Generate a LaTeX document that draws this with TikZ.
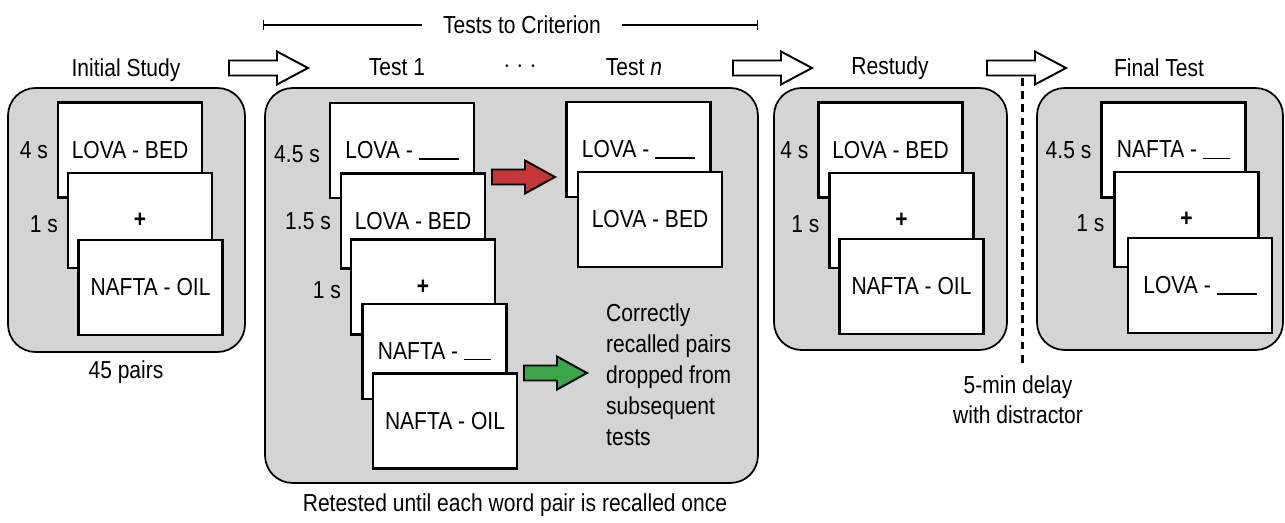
\documentclass[tikz,border=0pt]{standalone}
\usepackage{fontspec}
\setmainfont{Liberation Sans}[FakeStretch=0.855]
\usetikzlibrary{arrows.meta, positioning}
\definecolor{panelgray}{RGB}{212,212,212}
\definecolor{myred}{RGB}{196,56,56}
\definecolor{mygreen}{RGB}{58,166,72}

% fat arrow: style, tail point, shaft length, head length, half shaft, half head
\newcommand{\fatarrow}[6]{%
  \draw[#1] (#2) ++(0,-#5) -- ++(#3,0) -- ++(0,{#5-#6}) -- ++(#4,#6)
    -- ++(-#4,#6) -- ++(0,{#5-#6}) -- ++(-#3,0) -- cycle;}
\newcommand{\blank}[1]{\rule[-0.6pt]{#1}{0.8pt}}

\begin{document}
\begin{tikzpicture}[x=0.02cm, y=-0.02cm,
    font=\fontsize{14}{16}\selectfont,
    panel/.style={draw=black, line width=1pt, fill=panelgray, rounded corners=0.55cm, inner sep=0pt},
    card/.style={draw=black, line width=1.2pt, fill=white, minimum width=2.88cm, minimum height=1.9cm, inner sep=0pt},
    dur/.style={inner sep=0pt},
    stagearrow/.style={draw=black, line width=1.1pt, fill=white, line join=miter},
    bracket/.style={line width=0.8pt}
]

    \useasboundingbox (0,0) rectangle (1285,523);

    % Stage titles
    \node (t_study) at (126,70) {Initial Study};
    \node (t_test1) at (397,67) {Test 1};
    \node (t_dots) at (520,67) {$\cdot$\hspace{3.5pt}$\cdot$\hspace{3.5pt}$\cdot$};
    \node (t_testn) at (634,67) {Test \textit{n}};
    \node (t_restudy) at (890,68) {Restudy};
    \node (t_final) at (1159,68) {Final Test};

    % Tests to criterion bracket
    \node[inner xsep=12pt] (crit) at (522,25) {Tests to Criterion};
    \coordinate (crit_l) at (263,25);
    \coordinate (crit_r) at (758,25);
    \draw[bracket, {Bar[width=6pt]}-] (crit_l) -- (crit.west);
    \draw[bracket, -{Bar[width=6pt]}] (crit.east) -- (crit_r);

    % Stage arrows
    \coordinate (a_study) at (229,68);
    \coordinate (a_tests) at (733,68);
    \coordinate (a_restudy) at (987,68);
    \fatarrow{stagearrow}{a_study}{48}{31}{7.5}{16.5}
    \fatarrow{stagearrow}{a_tests}{48}{31}{7.5}{16.5}
    \fatarrow{stagearrow}{a_restudy}{48}{31}{7.5}{16.5}

    % Panels
    \node[panel, minimum width=4.74cm, minimum height=5.28cm] (p_study) at (126.5,220) {};
    \node[panel, minimum width=9.86cm, minimum height=7.9cm] (p_tests) at (511.5,285.5) {};
    \node[panel, minimum width=4.66cm, minimum height=5.24cm] (p_restudy) at (890.5,219) {};
    \node[panel, minimum width=4.92cm, minimum height=5.24cm] (p_final) at (1160,219) {};

    % Initial study cards
    \node[card] (s1) at (130,150) {LOVA - BED};
    \node[card] (s2) at (140,220.5) {\textbf{+}};
    \node[card] (s3) at (150.5,287.5) {NAFTA - OIL};
    \node[dur, left=5pt of s1.west] {4 s};
    \node[dur, left=5pt of s2.west, yshift=-2pt] {1 s};
    \node (pairs) at (126,372) {45 pairs};

    % Test cards
    \node[card] (ta) at (402,150.5) {LOVA - \blank{0.8cm}};
    \node[card] (tb) at (413,221) {LOVA - BED};
    \node[card] (tc) at (423,287) {\textbf{+}};
    \node[card] (td) at (434.5,351.5) {NAFTA - \blank{0.54cm}};
    \node[card] (te) at (445,421) {NAFTA - OIL};
    \node[dur, left=5pt of ta.west, yshift=-2pt] {4.5 s};
    \node[dur, left=5pt of tb.west] {1.5 s};
    \node[dur, left=5pt of tc.west, yshift=-2pt] {1 s};

    \node[card] (tf) at (638.5,149.5) {LOVA - \blank{0.8cm}};
    \node[card] (tg) at (650,219.5) {LOVA - BED};

    % Feedback arrows
    \coordinate (a_wrong) at (492,177);
    \coordinate (a_right) at (524,373);
    \fatarrow{stagearrow, fill=myred}{a_wrong}{33}{30}{7.5}{16.5}
    \fatarrow{stagearrow, fill=mygreen}{a_right}{33}{30}{7.5}{16.5}
    \node[anchor=west, align=left, font=\fontsize{14}{17.6}\selectfont] (dropped) at (600,375)
        {Correctly\\recalled pairs\\dropped from\\subsequent\\tests};
    \node (retested) at (515,505) {Retested until each word pair is recalled once};

    % Restudy cards
    \node[card] (r1) at (890.5,150) {LOVA - BED};
    \node[card] (r2) at (901.5,220.5) {\textbf{+}};
    \node[card] (r3) at (911.5,286.5) {NAFTA - OIL};
    \node[dur, left=5pt of r1.west] {4 s};
    \node[dur, left=5pt of r2.west, yshift=-2pt] {1 s};

    % Delay
    \coordinate (delay_top) at (1022,78);
    \coordinate (delay_bot) at (1022,363);
    \draw[line width=1.7pt, dash pattern=on 4.5pt off 3pt] (delay_top) -- (delay_bot);
    \node[align=center, font=\fontsize{14}{17}\selectfont] (delay) at (1018,400) {5-min delay\\with distractor};

    % Final test cards
    \node[card] (f1) at (1173.5,150) {NAFTA - \blank{0.54cm}};
    \node[card] (f2) at (1186.5,219.5) {\textbf{+}};
    \node[card] (f3) at (1200,285.5) {LOVA - \blank{0.8cm}};
    \node[dur, left=5pt of f1.west] {4.5 s};
    \node[dur, left=5pt of f2.west, yshift=-2pt] {1 s};

\end{tikzpicture}
\end{document}
